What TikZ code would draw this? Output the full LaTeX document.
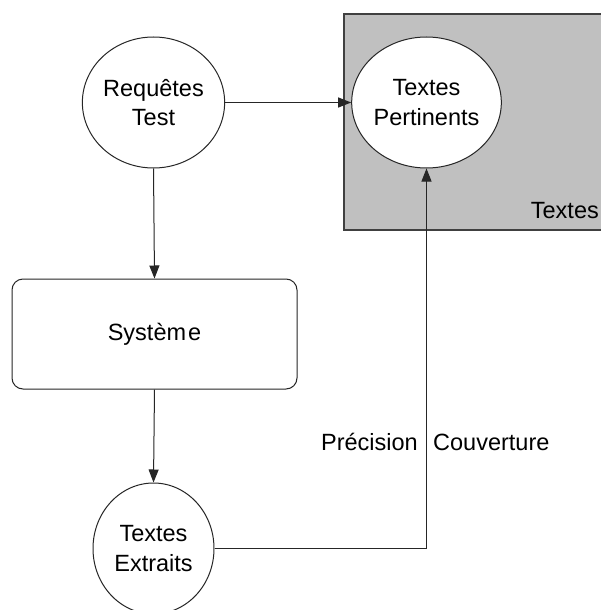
\documentclass[tikz,border=0pt]{standalone}
\usepackage{fontspec}
\setmainfont{Liberation Sans}
\usetikzlibrary{arrows.meta,shapes.geometric}
\begin{document}
\begin{tikzpicture}[x=1pt,y=-1pt,
  ink/.style={draw=black!85,line width=1pt},
  txt/.style={font=\fontsize{23.5}{29.5}\selectfont},
  bubble/.style={ink,txt,fill=white,ellipse,minimum width=121pt,minimum height=131pt,
    inner sep=0pt,align=center},
  proc/.style={ink,txt,fill=white,rounded corners=11pt,minimum width=285pt,minimum height=110pt,
    inner sep=0pt},
  lbl/.style={txt,inner sep=0pt},
  flow/.style={ink,-{Triangle[length=13pt,width=10pt]}}]
\useasboundingbox (0,0) rectangle (601,610);
\fill[white] (0,0) rectangle (601,610);
% collection of documents
\draw[draw=black!75,line width=1.2pt,fill={rgb,255:red,192;green,192;blue,192}]
  (344,14) rectangle (640,230);
\node[lbl,anchor=base east] (coll) at (599,218) {Textes};
% nodes
\node[bubble] (req) at (153.5,102.5) {Requêtes\\Test};
\node[bubble] (pert) at (426.5,102.5) {Textes\\Pertinents};
\node[proc] (sys) at (154.5,334) {Systèm\hspace{2pt}e};
\node[bubble] (extr) at (153.5,548.5) {Textes\\Extraits};
% connectors
\draw[flow] (req.east) -- (pert.west);
\draw[flow] (req.south) -- (sys.north);
\draw[flow] (sys.south) -- (extr.north);
\coordinate (bend) at (pert.south |- extr.east);
\draw[flow] (extr.east) -- (bend) -- (pert.south);
% measures
\node[lbl,anchor=east] (prec) at (418,442) {Précision};
\node[lbl,anchor=west] (couv) at (433,442) {Couverture};
\end{tikzpicture}
\end{document}
